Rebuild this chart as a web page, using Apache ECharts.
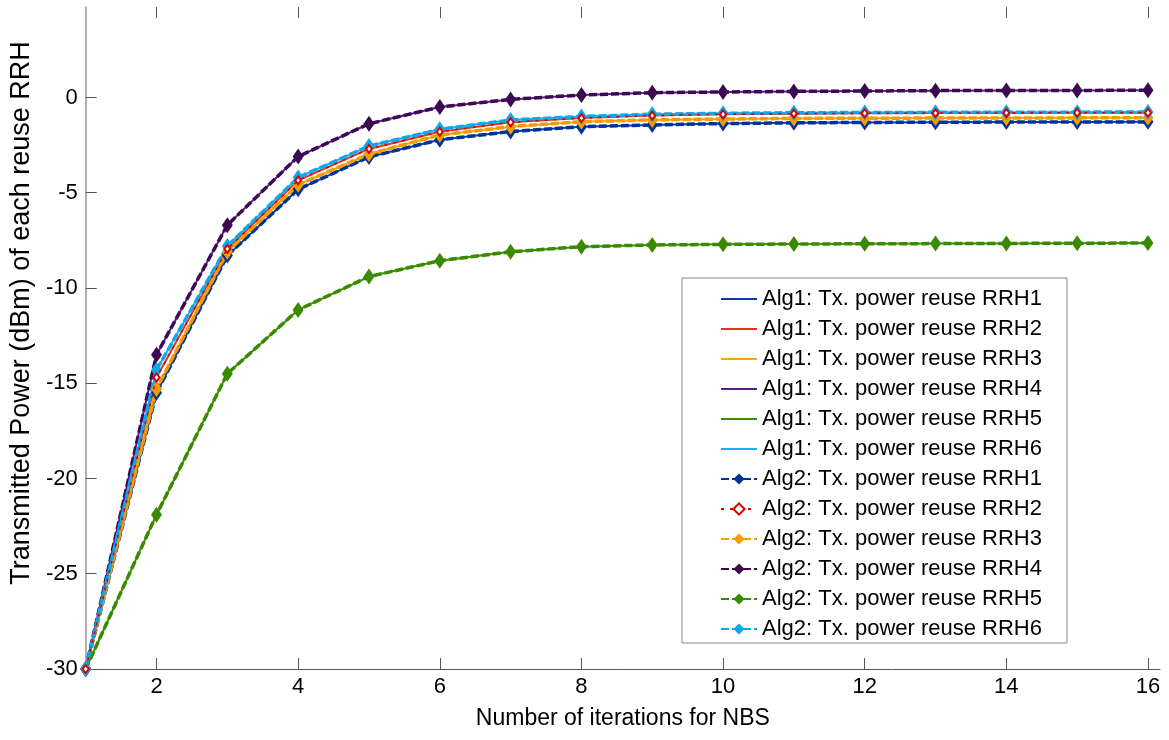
<!DOCTYPE html>
<html>
<head>
<meta charset="utf-8">
<script src="https://cdn.jsdelivr.net/npm/echarts@6/dist/echarts.min.js"></script>
<style>html,body{margin:0;padding:0;background:#fff}#c{width:1169px;height:740px}</style>
</head>
<body>
<div id="c"></div>
<script>
var iterations = [1,2,3,4,5,6,7,8,9,10,11,12,13,14,15,16];
var xTickValues = [2,4,6,8,10,12,14,16];
var rrh1 = [-30,-15.5,-8.3,-4.82,-3.12,-2.22,-1.79,-1.53,-1.44,-1.37,-1.33,-1.31,-1.30,-1.29,-1.29,-1.28];
var rrh2 = [-30,-14.7,-7.95,-4.35,-2.70,-1.80,-1.30,-1.08,-0.95,-0.88,-0.85,-0.83,-0.82,-0.81,-0.80,-0.80];
var rrh3 = [-30,-15.3,-8.1,-4.58,-2.97,-1.97,-1.53,-1.27,-1.18,-1.13,-1.10,-1.09,-1.08,-1.08,-1.07,-1.07];
var rrh4 = [-30,-13.5,-6.7,-3.1,-1.38,-0.5,-0.1,0.13,0.25,0.29,0.32,0.34,0.36,0.37,0.37,0.38];
var rrh5 = [-30,-21.9,-14.5,-11.15,-9.4,-8.57,-8.1,-7.83,-7.74,-7.71,-7.69,-7.68,-7.67,-7.66,-7.65,-7.64];
var rrh6 = [-30,-14.3,-7.8,-4.2,-2.55,-1.67,-1.18,-1.0,-0.88,-0.83,-0.80,-0.79,-0.78,-0.77,-0.77,-0.76];
var yTickLabels = [-30,-25,-20,-15,-10,-5,0];

var seriesValues = [rrh1, rrh2, rrh3, rrh4, rrh5, rrh6];
var alg1Colors = ['#0a3aa3','#e8321e','#f7a400','#5a1a8a','#3a8f00','#19aef0'];
var alg2Colors = ['#00339a','#dd0000','#f39c00','#3d0a52','#3a8a00','#0aa8ee'];

function pairs(arr){ return arr.map(function(v,i){ return [iterations[i], v]; }); }

var series = [];
var legendData = [];
for (var k = 0; k < 6; k++) {
  var nm = 'Alg1: Tx. power reuse RRH' + (k+1);
  legendData.push({ name: nm, itemStyle: { opacity: 0 } });
  series.push({
    name: nm, type: 'line', data: pairs(seriesValues[k]),
    symbol: 'none', z: 2,
    lineStyle: { color: alg1Colors[k], width: 2, type: 'solid' },
    itemStyle: { color: alg1Colors[k] }
  });
}
for (var k = 0; k < 6; k++) {
  var nm = 'Alg2: Tx. power reuse RRH' + (k+1);
  legendData.push({ name: nm });
  var isRed = (k === 1);
  series.push({
    name: nm, type: 'line', data: pairs(seriesValues[k]),
    symbol: isRed ? 'emptyDiamond' : 'diamond',
    symbolSize: isRed ? [6,8] : [11,16],
    z: isRed ? 5 : 3,
    lineStyle: isRed ? { color: alg2Colors[k], width: 1.6, type: [3,6] }
                     : { color: alg2Colors[k], width: 3.5, type: [8,3] },
    itemStyle: { color: alg2Colors[k], borderColor: alg2Colors[k], borderWidth: isRed ? 1.5 : 0 }
  });
}

var FONT = 'Liberation Sans, Arial, sans-serif';
var chart = echarts.init(document.getElementById('c'), null, { renderer: 'canvas' });
chart.setOption({
  animation: false,
  backgroundColor: '#fff',
  grid: { left: 83, right: 9, top: 7, bottom: 71, containLabel: false },
  legend: {
    data: legendData, orient: 'vertical', left: 682, top: 278,
    padding: [10, 25, 3, 38], itemGap: 8, itemWidth: 36, itemHeight: 14,
    borderColor: '#888', borderWidth: 1, backgroundColor: '#fff',
    textStyle: { fontSize: 22, lineHeight: 22, fontFamily: FONT, color: '#000' }
  },
  xAxis: [{
    type: 'value', min: 1, max: 16.17, position: 'bottom',
    name: 'Number of iterations for NBS', nameLocation: 'middle', nameGap: 38,
    nameTextStyle: { fontSize: 23, fontFamily: FONT, color: '#000' },
    axisLine: { show: true, onZero: false, lineStyle: { color: '#555', width: 1 } },
    axisTick: { show: true, inside: true, length: 11, customValues: xTickValues, lineStyle: { color: '#555' } },
    axisLabel: { customValues: xTickValues, fontSize: 22, fontFamily: FONT, color: '#000', margin: 7 },
    splitLine: { show: false }
  }, {
    type: 'value', min: 1, max: 16.17, position: 'top',
    axisLine: { show: false, onZero: false },
    axisTick: { show: true, inside: true, length: 11, customValues: xTickValues, lineStyle: { color: '#555' } },
    axisLabel: { show: false },
    splitLine: { show: false }
  }],
  yAxis: {
    type: 'value', min: -30, max: 4.75, interval: 5,
    name: 'Transmitted Power (dBm) of each reuse RRH', nameLocation: 'middle', nameGap: 48,
    nameTextStyle: { fontSize: 27, fontFamily: FONT, color: '#000', padding: [0, 0, 0, 50] },
    axisLine: { show: true, onZero: false, lineStyle: { color: '#999', width: 1.5 } },
    axisTick: { show: true, inside: true, length: 11, customValues: yTickLabels, lineStyle: { color: '#555' } },
    axisLabel: { customValues: yTickLabels, fontSize: 22, fontFamily: FONT, color: '#000', margin: 8 },
    splitLine: { show: false }
  },
  series: series
});
</script>
</body>
</html>
